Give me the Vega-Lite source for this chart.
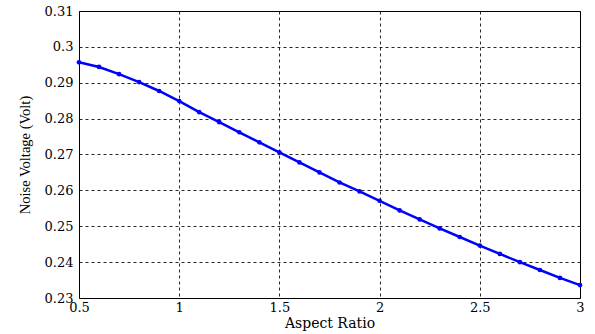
{
  "$schema": "https://vega.github.io/schema/vega-lite/v6.json",
  "width": 501,
  "height": 287,
  "autosize": {"type": "none"},
  "padding": {"left": 79, "top": 11, "right": 15, "bottom": 36},
  "background": "white",
  "config": {
    "view": {"stroke": "#000000", "strokeWidth": 1},
    "axis": {
      "labelFont": "DejaVu Serif",
      "titleFont": "DejaVu Serif",
      "labelColor": "#000000",
      "titleColor": "#000000",
      "labelFontSize": 13,
      "titleFontSize": 14,
      "titleFontWeight": "normal",
      "domain": false,
      "ticks": false,
      "grid": true,
      "gridColor": "#000000",
      "gridDash": [3, 3],
      "gridWidth": 1,
      "gridOpacity": 0.85
    }
  },
  "data": {
    "values": [
      {"x": 0.5, "y": 0.2957},
      {"x": 0.6, "y": 0.2944},
      {"x": 0.7, "y": 0.2924},
      {"x": 0.8, "y": 0.2902},
      {"x": 0.9, "y": 0.2877},
      {"x": 1.0, "y": 0.2849},
      {"x": 1.1, "y": 0.2818},
      {"x": 1.2, "y": 0.2790},
      {"x": 1.3, "y": 0.2762},
      {"x": 1.4, "y": 0.2734},
      {"x": 1.5, "y": 0.2706},
      {"x": 1.6, "y": 0.2678},
      {"x": 1.7, "y": 0.2650},
      {"x": 1.8, "y": 0.2622},
      {"x": 1.9, "y": 0.2597},
      {"x": 2.0, "y": 0.2571},
      {"x": 2.1, "y": 0.2544},
      {"x": 2.2, "y": 0.2519},
      {"x": 2.3, "y": 0.2494},
      {"x": 2.4, "y": 0.2470},
      {"x": 2.5, "y": 0.2446},
      {"x": 2.6, "y": 0.2423},
      {"x": 2.7, "y": 0.2400},
      {"x": 2.8, "y": 0.2378},
      {"x": 2.9, "y": 0.2356},
      {"x": 3.0, "y": 0.2336}
    ]
  },
  "encoding": {
    "x": {
      "field": "x",
      "type": "quantitative",
      "scale": {"domain": [0.5, 3], "nice": false, "zero": false},
      "axis": {
        "title": "Aspect Ratio",
        "values": [0.5, 1, 1.5, 2, 2.5, 3],
        "format": "~g",
        "labelPadding": 3,
        "titlePadding": 2,
        "labelFlush": false,
        "labelOverlap": false
      }
    },
    "y": {
      "field": "y",
      "type": "quantitative",
      "scale": {"domain": [0.23, 0.31], "nice": false, "zero": false},
      "axis": {
        "title": "Noise Voltage (Volt)",
        "titleFont": "Liberation Serif",
        "titleFontSize": 14.5,
        "values": [0.23, 0.24, 0.25, 0.26, 0.27, 0.28, 0.29, 0.3, 0.31],
        "format": ".2~f",
        "labelPadding": 6,
        "titlePadding": 12,
        "labelFlush": false,
        "labelOverlap": false
      }
    }
  },
  "layer": [
    {"mark": {"type": "line", "color": "#0000ff", "strokeWidth": 2.5}},
    {"mark": {"type": "point", "filled": true, "color": "#0000ff", "size": 22, "opacity": 1}}
  ]
}
